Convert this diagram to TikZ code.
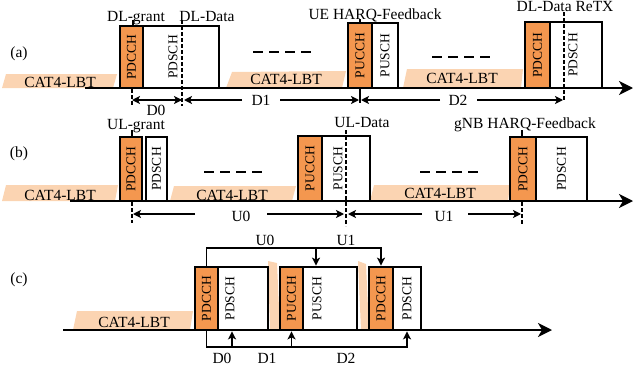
\documentclass[tikz,border=0pt]{standalone}
\usepackage{fontspec}
\setmainfont{Liberation Serif}
\usetikzlibrary{arrows.meta}
\definecolor{orng}{RGB}{244,151,79}
\definecolor{peach}{RGB}{251,212,178}
\begin{document}
\begin{tikzpicture}[x=1pt,y=-1pt,
  lbl/.style={font=\fontsize{15.5}{18}\selectfont, inner sep=0pt, anchor=base},
  chan/.style={draw, line width=2.7pt, inner sep=0pt, font=\fontsize{13.5}{16}\selectfont},
  ctl/.style={chan, fill=orng},
  dat/.style={chan, fill=white},
  lbt/.style={fill=peach},
  tline/.style={line width=2pt, -{Stealth[length=14pt,width=14pt,inset=4pt]}},
  dimarr/.style={line width=1.6pt, -{Stealth[length=8pt,width=8pt,inset=2pt]}},
  dimboth/.style={line width=1.6pt, {Stealth[length=8pt,width=8pt,inset=2pt]}-{Stealth[length=8pt,width=8pt,inset=2pt]}},
  guide/.style={line width=2pt, dash pattern=on 4pt off 2pt},
  tick/.style={line width=1.3pt},
  gap/.style={line width=2.5pt, dash pattern=on 10pt off 6pt},
  brk/.style={line width=1.8pt, -{Stealth[length=8pt,width=8pt,inset=2pt]}},
]
\useasboundingbox (0,0) rectangle (634,372);

% ---------------- row (a) ----------------
\fill[lbt] (6,74) -- (117,74) -- (113,88) -- (2,88) -- cycle;
\fill[lbt] (232,72) -- (346,71) -- (342,88) -- (226,88) -- cycle;
\fill[lbt] (407,69) -- (523,69) -- (521,88) -- (403,88) -- cycle;
\coordinate (ta0) at (85,88);
\coordinate (ta1) at (633,88);
\draw[tline] (ta0) -- (ta1);
\node[lbl] (la1) at (60,87) {CAT4-LBT};
\node[lbl] (la2) at (286,84) {CAT4-LBT};
\node[lbl] (la3) at (462,83) {CAT4-LBT};
\node[lbl] (pa) at (19,57) {(a)};

\node[ctl, minimum width=23pt, minimum height=62pt] (A1) at (131.5,57) {\rotatebox{90}{PDCCH}};
\node[dat, minimum width=76pt, minimum height=62pt,
      label={[xshift=-8pt,font=\fontsize{13.5}{16}\selectfont]center:\rotatebox{90}{PDSCH}}] (A1d) at (181,57) {};
\node[ctl, minimum width=24pt, minimum height=65pt] (A2) at (360,55.5) {\rotatebox{90}{PUCCH}};
\node[dat, minimum width=26pt, minimum height=65pt] (A2d) at (385,55.5) {\rotatebox{90}{PUSCH}};
\node[ctl, minimum width=25pt, minimum height=66pt] (A3) at (537.5,55) {\rotatebox{90}{PDCCH}};
\node[dat, minimum width=52pt, minimum height=66pt,
      label={[xshift=-3pt,font=\fontsize{13.5}{16}\selectfont]center:\rotatebox{90}{PDSCH}}] (A3d) at (576,55) {};

\draw[gap] (253,52) -- (311,52);
\draw[gap] (432,57) -- (490,57);

\node[lbl] (tDLg) at (136,21) {DL-grant};
\node[lbl] (tDLd) at (207,21) {DL-Data};
\node[lbl] (tUEh) at (375,19) {UE HARQ-Feedback};
\node[lbl] (tReTX) at (565,12) {DL-Data ReTX};
\draw[tick] (133,20) -- (133,26);
\draw[tick] (360,19) -- (360,23);

\coordinate (ga0t) at (132,89);  \coordinate (ga0b) at (132,106);
\coordinate (ga1t) at (182,20);  \coordinate (ga1b) at (182,106);
\coordinate (ga2t) at (360,88);  \coordinate (ga2b) at (360,103);
\coordinate (ga3t) at (564,12);  \coordinate (ga3b) at (564,101);
\draw[guide] (ga0t) -- (ga0b);
\draw[guide] (ga1t) -- (ga1b);
\draw[tick, line width=1.6pt] (ga2t) -- (ga2b);
\draw[guide] (ga3t) -- (ga3b);

\coordinate (d0l) at (132,100); \coordinate (d0r) at (182,100);
\draw[dimboth] (d0l) -- (d0r);
\node[lbl] (tD0) at (156,115) {D0};
\coordinate (d1l) at (184,100); \coordinate (d1a) at (242,100);
\coordinate (d1b) at (280,100); \coordinate (d1r) at (359,100);
\draw[dimarr] (d1a) -- (d1l);
\draw[dimarr] (d1b) -- (d1r);
\node[lbl] (tD1) at (261,105) {D1};
\coordinate (d2l) at (361,100); \coordinate (d2a) at (440,100);
\coordinate (d2b) at (477,100); \coordinate (d2r) at (563,100);
\draw[dimarr] (d2a) -- (d2l);
\draw[dimarr] (d2b) -- (d2r);
\node[lbl] (tD2) at (458,105) {D2};

% ---------------- row (b) ----------------
\fill[lbt] (6,185) -- (118,185) -- (115,201) -- (2,201) -- cycle;
\fill[lbt] (174,186) -- (296,186) -- (292,201) -- (170,201) -- cycle;
\fill[lbt] (374,185) -- (510,185) -- (508,201) -- (370,201) -- cycle;
\coordinate (tb0) at (70,201);
\coordinate (tb1) at (633,201);
\draw[tline] (tb0) -- (tb1);
\node[lbl] (lb1) at (60,200) {CAT4-LBT};
\node[lbl] (lb2) at (232,200) {CAT4-LBT};
\node[lbl] (lb3) at (440,198) {CAT4-LBT};
\node[lbl] (pb) at (19,157) {(b)};

\node[ctl, minimum width=22pt, minimum height=64pt] (B1) at (131,169) {\rotatebox{90}{PDCCH}};
\node[dat, minimum width=21pt, minimum height=64pt] (B1d) at (156.5,169) {\rotatebox{90}{PDSCH}};
\node[ctl, minimum width=24pt, minimum height=65pt] (B2) at (310,168.5) {\rotatebox{90}{PUCCH}};
\node[dat, minimum width=48pt, minimum height=65pt,
      label={[xshift=-8pt,font=\fontsize{13.5}{16}\selectfont]center:\rotatebox{90}{PUSCH}}] (B2d) at (346,168.5) {};
\node[ctl, minimum width=26pt, minimum height=64pt] (B3) at (523,169) {\rotatebox{90}{PDCCH}};
\node[dat, minimum width=51pt, minimum height=64pt] (B3d) at (561.5,169) {\rotatebox{90}{PDSCH}};

\draw[gap] (204,172) -- (262,172);
\draw[gap] (420,172) -- (478,172);

\node[lbl] (tULg) at (136,129) {UL-grant};
\node[lbl] (tULd) at (362,127) {UL-Data};
\node[lbl] (tgNB) at (525,128) {gNB HARQ-Feedback};
\draw[tick] (132,130) -- (132,137);
\draw[tick] (522,130) -- (522,137);

\coordinate (gb0t) at (132,202); \coordinate (gb0b) at (132,223);
\coordinate (gb1t) at (346,130); \coordinate (gb1b) at (346,226);
\coordinate (gb2t) at (522,202); \coordinate (gb2b) at (522,224);
\draw[guide] (gb0t) -- (gb0b);
\draw[guide] (gb1t) -- (gb1b);
\draw[guide] (gb2t) -- (gb2b);

\coordinate (u0l) at (133,214); \coordinate (u0a) at (195,214);
\coordinate (u0b) at (267,214); \coordinate (u0r) at (344,214);
\draw[dimarr] (u0a) -- (u0l);
\draw[dimarr] (u0b) -- (u0r);
\node[lbl] (tU0) at (241,221) {U0};
\coordinate (u1l) at (348,214); \coordinate (u1a) at (422,214);
\coordinate (u1b) at (468,214); \coordinate (u1r) at (521,214);
\draw[dimarr] (u1a) -- (u1l);
\draw[dimarr] (u1b) -- (u1r);
\node[lbl] (tU1) at (444,221) {U1};

% ---------------- row (c) ----------------
\fill[lbt] (77,311) -- (193,311) -- (190,330) -- (73,330) -- cycle;
\fill[lbt] (268,261) -- (277,263) -- (280,330) -- (270,330) -- cycle;
\fill[lbt] (358,261) -- (366,264) -- (369,330) -- (361,330) -- cycle;
\coordinate (tc0) at (63,330);
\coordinate (tc1) at (552,330);
\draw[tline] (tc0) -- (tc1);
\node[lbl] (lc1) at (134,327) {CAT4-LBT};
\node[lbl] (pc) at (19,283) {(c)};

\node[ctl, minimum width=23pt, minimum height=63pt] (C1) at (206.5,298.5) {\rotatebox{90}{PDCCH}};
\node[dat, minimum width=50pt, minimum height=63pt,
      label={[xshift=-13pt,font=\fontsize{13.5}{16}\selectfont]center:\rotatebox{90}{PDSCH}}] (C1d) at (243,298.5) {};
\node[ctl, minimum width=23pt, minimum height=63pt] (C2) at (291.5,298.5) {\rotatebox{90}{PUCCH}};
\node[dat, minimum width=54pt, minimum height=63pt,
      label={[xshift=-13pt,font=\fontsize{13.5}{16}\selectfont]center:\rotatebox{90}{PUSCH}}] (C2d) at (330,298.5) {};
\node[ctl, minimum width=24pt, minimum height=63pt] (C3) at (381,298.5) {\rotatebox{90}{PDCCH}};
\node[dat, minimum width=28pt, minimum height=63pt] (C3d) at (407,298.5) {\rotatebox{90}{PDSCH}};

% upper bracket
\draw[brk] (C1.north) -- ++(0,-18) -| (C3.north);
\coordinate (u0c) at (316,249);
\draw[brk] (u0c) -- (u0c |- C2d.north);
\node[lbl] (tcU0) at (265,245) {U0};
\node[lbl] (tcU1) at (346,245) {U1};

% lower bracket
\draw[brk] (C1.south) -- ++(0,16) -| (C3d.south);
\coordinate (d0c) at (232,346);
\draw[brk] (d0c) -- (d0c |- C1d.south);
\draw[brk] (C2.south |- 0,346) -- (C2.south);
\node[lbl] (tcD0) at (222,363) {D0};
\node[lbl] (tcD1) at (267,363) {D1};
\node[lbl] (tcD2) at (346,363) {D2};

\end{tikzpicture}
\end{document}
